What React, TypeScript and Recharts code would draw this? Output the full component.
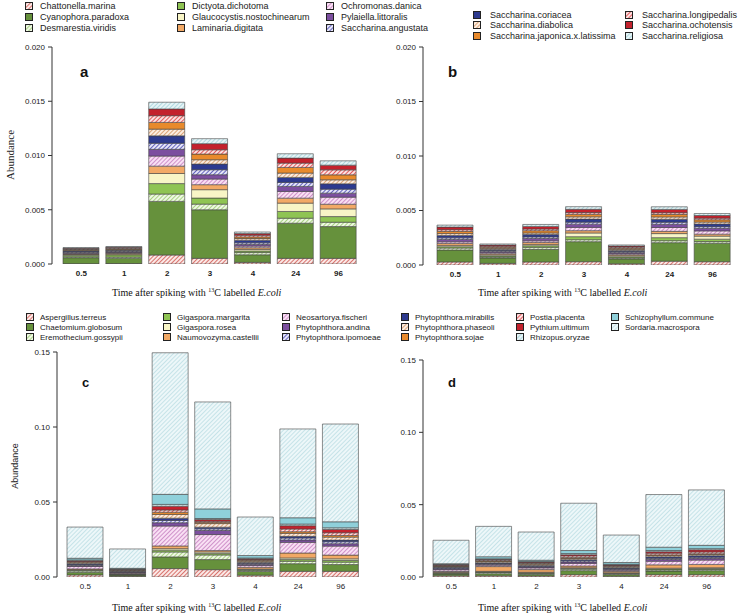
import React from "react";
import { BarChart, Bar, XAxis, YAxis } from "recharts";

const TIMES = ["0.5", "1", "2", "3", "4", "24", "96"];

const ALGAE = [
  "Chattonella.marina",
  "Cyanophora.paradoxa",
  "Desmarestia.viridis",
  "Dictyota.dichotoma",
  "Glaucocystis.nostochinearum",
  "Laminaria.digitata",
  "Ochromonas.danica",
  "Pylaiella.littoralis",
  "Saccharina.angustata",
  "Saccharina.coriacea",
  "Saccharina.diabolica",
  "Saccharina.japonica.x.latissima",
  "Saccharina.longipedalis",
  "Saccharina.ochotensis",
  "Saccharina.religiosa",
];

const FUNGI = [
  "Aspergillus.terreus",
  "Chaetomium.globosum",
  "Eremothecium.gossypii",
  "Gigaspora.margarita",
  "Gigaspora.rosea",
  "Naumovozyma.castellii",
  "Neosartorya.fischeri",
  "Phytophthora.andina",
  "Phytophthora.ipomoeae",
  "Phytophthora.mirabilis",
  "Phytophthora.phaseoli",
  "Phytophthora.sojae",
  "Postia.placenta",
  "Pythium.ultimum",
  "Rhizopus.oryzae",
  "Schizophyllum.commune",
  "Sordaria.macrospora",
];

// rows follow ALGAE, columns follow TIMES
const PANEL_A = [
  [0.00003, 0.00004, 0.00083, 0.00052, 0.00015, 0.00052, 0.00052],
  [0.00055, 0.0005, 0.00494, 0.00448, 0.0007, 0.00324, 0.00293],
  [0.00008, 0.0001, 0.00068, 0.00052, 0.0002, 0.00046, 0.0004],
  [0.00015, 0.0002, 0.00096, 0.00056, 0.00015, 0.00062, 0.00052],
  [0.00006, 0.00007, 0.00093, 0.00077, 0.00015, 0.00077, 0.00071],
  [0.00006, 0.00007, 0.00068, 0.00046, 0.00015, 0.00046, 0.00043],
  [0.00006, 0.00007, 0.00093, 0.00052, 0.00015, 0.00062, 0.00065],
  [0.00008, 0.00007, 0.00062, 0.0004, 0.00015, 0.00046, 0.00037],
  [0.00006, 0.00007, 0.00056, 0.00046, 0.00015, 0.00037, 0.00037],
  [0.00008, 0.00007, 0.00068, 0.00052, 0.00025, 0.00046, 0.00049],
  [0.00006, 0.00007, 0.00062, 0.0004, 0.00015, 0.0004, 0.00037],
  [0.00006, 0.00007, 0.00062, 0.00052, 0.00015, 0.00052, 0.00046],
  [0.00006, 0.00007, 0.00062, 0.0004, 0.00015, 0.0004, 0.00046],
  [0.00006, 0.00007, 0.00062, 0.00056, 0.00015, 0.00046, 0.00043],
  [0.00006, 0.00007, 0.00062, 0.00046, 0.00015, 0.0004, 0.0004],
];

const PANEL_B = [
  [0.00028, 0.00015, 0.00028, 0.0003, 0.00011, 0.00035, 0.0003],
  [0.0011, 0.0005, 0.00116, 0.00184, 0.00045, 0.0017, 0.0017],
  [0.00018, 0.00008, 0.00018, 0.00018, 0.00008, 0.00018, 0.00015],
  [0.00012, 0.0001, 0.00015, 0.00028, 0.0001, 0.00028, 0.00022],
  [0.00012, 0.0001, 0.00012, 0.00034, 0.0001, 0.00037, 0.00028],
  [0.00018, 0.0001, 0.00018, 0.00021, 0.0001, 0.00021, 0.00018],
  [0.00015, 0.0001, 0.00015, 0.0003, 0.0001, 0.00035, 0.0003],
  [0.00021, 0.0001, 0.00021, 0.0003, 0.0001, 0.0003, 0.00024],
  [0.00015, 0.0001, 0.00015, 0.00018, 0.0001, 0.00018, 0.00015],
  [0.00021, 0.0001, 0.00021, 0.00028, 0.0001, 0.00028, 0.00024],
  [0.00018, 0.0001, 0.00015, 0.00021, 0.0001, 0.00021, 0.00018],
  [0.00021, 0.0001, 0.00021, 0.00024, 0.0001, 0.00024, 0.00021],
  [0.00015, 0.0001, 0.00015, 0.00015, 0.0001, 0.00015, 0.00015],
  [0.00024, 0.0001, 0.00024, 0.0003, 0.0001, 0.0003, 0.00024],
  [0.00018, 0.0001, 0.00018, 0.00024, 0.0001, 0.00024, 0.00018],
];

// rows follow FUNGI
const PANEL_C = [
  [0.0014, 0.0005, 0.0056, 0.0049, 0.0012, 0.0038, 0.0038],
  [0.0018, 0.0008, 0.0078, 0.0067, 0.0025, 0.0051, 0.0045],
  [0.0009, 0.0003, 0.0033, 0.0031, 0.0008, 0.0016, 0.0016],
  [0.0004, 0.0002, 0.0012, 0.0009, 0.0004, 0.0011, 0.0011],
  [0.0004, 0.0002, 0.001, 0.0011, 0.0004, 0.0011, 0.0011],
  [0.0005, 0.0003, 0.0018, 0.0009, 0.0012, 0.0033, 0.0025],
  [0.0016, 0.0006, 0.0133, 0.0107, 0.0012, 0.0071, 0.006],
  [0.0006, 0.0004, 0.0022, 0.0027, 0.0008, 0.0016, 0.0016],
  [0.0006, 0.0003, 0.0015, 0.0011, 0.0006, 0.0013, 0.0013],
  [0.0006, 0.0003, 0.0015, 0.0011, 0.0006, 0.0011, 0.0011],
  [0.0006, 0.0003, 0.0025, 0.0024, 0.0008, 0.002, 0.002],
  [0.0005, 0.0003, 0.0015, 0.0009, 0.0006, 0.0011, 0.0011],
  [0.0005, 0.0003, 0.0015, 0.0007, 0.0006, 0.0018, 0.0018],
  [0.0005, 0.0003, 0.0025, 0.0011, 0.0005, 0.0022, 0.0022],
  [0.0005, 0.0003, 0.0012, 0.0007, 0.0005, 0.0011, 0.0011],
  [0.0011, 0.0004, 0.0067, 0.0064, 0.0016, 0.0042, 0.004],
  [0.0208, 0.0129, 0.0944, 0.0713, 0.0257, 0.0592, 0.0652],
];

const PANEL_D = [
  [0.0008, 0.0008, 0.0007, 0.0016, 0.0006, 0.0016, 0.0016],
  [0.0012, 0.0015, 0.0012, 0.0028, 0.0012, 0.0025, 0.0028],
  [0.0005, 0.0008, 0.0006, 0.001, 0.0005, 0.0008, 0.0008],
  [0.0004, 0.0004, 0.0004, 0.0005, 0.0003, 0.0006, 0.0006],
  [0.0004, 0.0004, 0.0004, 0.0005, 0.0003, 0.0006, 0.0006],
  [0.0005, 0.0033, 0.0018, 0.0012, 0.001, 0.0023, 0.0023],
  [0.0012, 0.001, 0.0012, 0.0018, 0.0008, 0.0025, 0.003],
  [0.0006, 0.0006, 0.0006, 0.001, 0.0006, 0.0012, 0.0012],
  [0.0005, 0.0005, 0.0005, 0.0008, 0.0005, 0.0008, 0.0008],
  [0.0006, 0.0005, 0.0006, 0.0008, 0.0006, 0.001, 0.001],
  [0.0005, 0.0008, 0.0008, 0.0008, 0.0006, 0.0008, 0.0008],
  [0.0004, 0.0005, 0.0005, 0.0006, 0.0004, 0.0006, 0.0006],
  [0.0005, 0.0006, 0.0006, 0.0012, 0.0006, 0.0012, 0.0012],
  [0.0004, 0.0005, 0.0005, 0.0008, 0.0004, 0.001, 0.0015],
  [0.0004, 0.0004, 0.0004, 0.0008, 0.0004, 0.0008, 0.0008],
  [0.0003, 0.0014, 0.0008, 0.0021, 0.0012, 0.0023, 0.0023],
  [0.0162, 0.021, 0.0195, 0.0327, 0.019, 0.0364, 0.0383],
];

const TICKS_AB = [0, 0.005, 0.01, 0.015, 0.02];
const TICKS_CD = [0, 0.05, 0.1, 0.15];

const HATCHES = [
  { id: "h-rose", bg: "#fbe8e6", line: "#d8736d" },
  { id: "h-lime", bg: "#eff8e4", line: "#a9d184" },
  { id: "h-pink", bg: "#f9e0f4", line: "#cf92ca" },
  { id: "h-blue", bg: "#e6e6f8", line: "#6464be" },
  { id: "h-peach", bg: "#fcede0", line: "#dba579" },
  { id: "h-red", bg: "#fce0e0", line: "#e25a5c" },
  { id: "h-cyan", bg: "#e6f4f6", line: "#b0d8df" },
  { id: "h-ice", bg: "#edf7f9", line: "#c6e3e8" },
];

const FILLS = [
  "url(#h-rose)",
  "#66913c",
  "url(#h-lime)",
  "#8fc453",
  "#f8f5c6",
  "#f2a966",
  "url(#h-pink)",
  "#7c4f9f",
  "url(#h-blue)",
  "#2d3a8f",
  "url(#h-peach)",
  "#e88a2c",
  "url(#h-red)",
  "#c3222d",
  "url(#h-cyan)",
  "#8fd0da",
  "url(#h-ice)",
];

const SANS = "'Liberation Sans', Arial, Helvetica, sans-serif";
const SERIF = "'Liberation Serif', 'Times New Roman', serif";

function Panel({ box, axisX, bandStart, bandEnd, top, bottom, names, values, ticks, digits, boldTicks }) {
  const data = TIMES.map((t, j) => {
    const row: Record<string, any> = { time: t };
    values.forEach((vals, i) => {
      row["s" + i] = vals[j];
    });
    return row;
  });
  const yw = 40;
  const xh = 16;
  const margin = {
    top: top - box.top,
    bottom: box.top + box.height - bottom - xh,
    left: axisX - box.left - yw,
    right: box.left + box.width - bandEnd,
  };
  return (
    <div style={{ position: "absolute", left: box.left, top: box.top }}>
      <BarChart width={box.width} height={box.height} data={data} margin={margin} barSize={36}>
        <XAxis
          dataKey="time"
          height={xh}
          axisLine={false}
          tickLine={false}
          tickSize={0}
          tickMargin={6}
          interval={0}
          padding={{ left: bandStart - axisX, right: 0 }}
          tick={{ fontSize: 8, fill: "#222", fontWeight: boldTicks ? 700 : 400 }}
        />
        <YAxis
          type="number"
          domain={[0, ticks[ticks.length - 1]]}
          ticks={ticks}
          interval={0}
          width={yw}
          tickSize={4}
          tickMargin={3}
          allowDataOverflow
          axisLine={{ stroke: "#333" }}
          tickLine={{ stroke: "#333" }}
          tick={{ fontSize: 8, fill: "#222" }}
          tickFormatter={(v) => v.toFixed(digits)}
        />
        {names.map((n, i) => (
          <Bar
            key={n}
            dataKey={"s" + i}
            name={n}
            stackId="s"
            fill={FILLS[i]}
            stroke="#454545"
            strokeWidth={0.6}
            isAnimationActive={false}
          />
        ))}
      </BarChart>
    </div>
  );
}

function Swatch({ fill }) {
  return (
    <svg width={8} height={8} style={{ display: "block" }}>
      <rect x={0.5} y={0.5} width={7} height={7} fill={fill} stroke="#222" strokeWidth={1} />
    </svg>
  );
}

function LegendBlock({ names, offset, cols, rows, gap, fontSize }) {
  return (
    <>
      {names.map((n, i) => (
        <div
          key={n}
          style={{
            position: "absolute",
            left: cols[Math.floor(i / rows.length)],
            top: rows[i % rows.length] - 6,
            height: 12,
            display: "flex",
            alignItems: "center",
            whiteSpace: "nowrap",
            fontSize,
            color: "#222",
          }}
        >
          <Swatch fill={FILLS[offset + i]} />
          <span style={{ marginLeft: gap }}>{n}</span>
        </div>
      ))}
    </>
  );
}

function TimeTitle({ left, top }) {
  return (
    <div
      style={{
        position: "absolute",
        left,
        top,
        fontFamily: SERIF,
        fontSize: 10,
        lineHeight: "12px",
        whiteSpace: "nowrap",
        color: "#111",
      }}
    >
      Time after spiking with <span style={{ fontSize: 6, verticalAlign: 4 }}>13</span>C labelled <i>E.coli</i>
    </div>
  );
}

function SideLabel({ x, y, font, size }) {
  return (
    <div
      style={{
        position: "absolute",
        left: x,
        top: y,
        transform: "translate(-50%, -50%) rotate(-90deg)",
        fontFamily: font,
        fontSize: size,
        whiteSpace: "nowrap",
        color: "#222",
      }}
    >
      Abundance
    </div>
  );
}

function Letter({ x, y, ch, size }) {
  return (
    <div style={{ position: "absolute", left: x, top: y, fontSize: size, fontWeight: 700, lineHeight: 1, color: "#111" }}>
      {ch}
    </div>
  );
}

export default function App() {
  return (
    <div
      style={{
        position: "absolute",
        left: 0,
        top: 0,
        width: 746,
        height: 613,
        background: "#fff",
        fontFamily: SANS,
        overflow: "hidden",
      }}
    >
      <svg width={0} height={0} style={{ position: "absolute" }}>
        <defs>
          {HATCHES.map((h) => (
            <pattern key={h.id} id={h.id} patternUnits="userSpaceOnUse" width={3} height={3} patternTransform="rotate(45)">
              <rect width={3} height={3} fill={h.bg} />
              <line x1={1.5} y1={0} x2={1.5} y2={3} stroke={h.line} strokeWidth={1} />
            </pattern>
          ))}
        </defs>
      </svg>

      <Panel box={{ left: 0, top: 0, width: 373, height: 300 }} axisX={52} bandStart={60} bandEnd={360} top={47} bottom={264}
        names={ALGAE} values={PANEL_A} ticks={TICKS_AB} digits={3} boldTicks />
      <Panel box={{ left: 373, top: 0, width: 373, height: 300 }} axisX={423} bandStart={434} bandEnd={734} top={47} bottom={265}
        names={ALGAE} values={PANEL_B} ticks={TICKS_AB} digits={3} boldTicks />
      <Panel box={{ left: 0, top: 300, width: 373, height: 313 }} axisX={57} bandStart={64} bandEnd={362} top={352} bottom={577}
        names={FUNGI} values={PANEL_C} ticks={TICKS_CD} digits={2} boldTicks={false} />
      <Panel box={{ left: 373, top: 300, width: 373, height: 313 }} axisX={423} bandStart={430} bandEnd={728} top={360} bottom={577}
        names={FUNGI} values={PANEL_D} ticks={TICKS_CD} digits={2} boldTicks={false} />

      <LegendBlock names={ALGAE.slice(0, 9)} offset={0} cols={[25, 177, 326]} rows={[6, 17, 28]} gap={7} fontSize={9} />
      <LegendBlock names={ALGAE.slice(9)} offset={9} cols={[473, 625]} rows={[15, 25, 36]} gap={9} fontSize={9} />
      <LegendBlock names={FUNGI} offset={0} cols={[26, 163, 282, 401, 516, 611]} rows={[317, 327, 337]} gap={6} fontSize={8} />

      <SideLabel x={10} y={155} font={SERIF} size={11} />
      <SideLabel x={15} y={466} font={SANS} size={9} />

      <Letter x={80} y={64} ch="a" size={15} />
      <Letter x={448} y={64} ch="b" size={15} />
      <Letter x={82} y={376} ch="c" size={13} />
      <Letter x={448} y={376} ch="d" size={13} />

      <TimeTitle left={112} top={284} />
      <TimeTitle left={478} top={284} />
      <TimeTitle left={112} top={599} />
      <TimeTitle left={478} top={599} />
    </div>
  );
}
